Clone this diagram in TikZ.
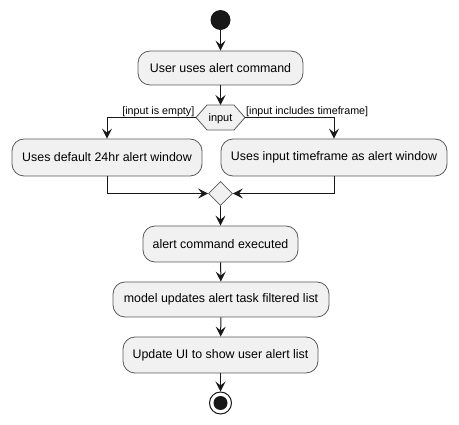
\documentclass[tikz,border=0pt]{standalone}
\usepackage{fontspec}
\setmainfont{Liberation Sans}
\usetikzlibrary{arrows.meta,shapes.geometric}
\definecolor{bgc}{HTML}{F1F1F1}
\definecolor{lnc}{HTML}{181818}
\definecolor{bdc}{HTML}{5A5A5A}
\begin{document}
\begin{tikzpicture}[x=1pt,y=-1pt,
  act/.style={draw=bdc,line width=0.8pt,fill=bgc,rounded corners=12pt,inner sep=0pt,
    minimum height=36pt,font=\fontsize{12.4}{14}\selectfont},
  arr/.style={draw=lnc,line width=1pt,-{Stealth[length=10pt,width=10pt,inset=4pt]}},
  lbl/.style={inner sep=0pt,font=\fontsize{10.7}{13}\selectfont}]
\useasboundingbox (0,0) rectangle (459,425);
\node[circle,fill=lnc,minimum size=20pt,inner sep=0pt] (start) at (220.5,20) {};
\node[act,minimum width=165pt,minimum height=34pt] (a1) at (220.5,68) {User uses alert command};
% decision hexagon
\draw[draw=bdc,line width=0.8pt,fill=bgc] (196,117.5) -- (207,105) -- (234,105) -- (245,117.5) -- (234,130) -- (207,130) -- cycle;
\coordinate (decL) at (196,117.5);
\coordinate (decR) at (245,117.5);
\coordinate (decT) at (220.5,105);
\node[inner sep=0pt,font=\fontsize{11}{13}\selectfont] (dec) at (220.5,118.5) {input};
\node[act,minimum width=190pt,minimum height=37pt] (L) at (107,157.5) {Uses default 24hr alert window};
\node[act,minimum width=226pt,minimum height=37pt] (R) at (334,157.5) {Uses input timeframe as alert window};
\node[diamond,draw=bdc,line width=0.8pt,fill=bgc,inner sep=0pt,minimum width=24pt,minimum height=24pt] (merge) at (220.5,193.5) {};
\node[act,minimum width=155pt] (a2) at (220.5,244) {alert command executed};
\node[act,minimum width=216pt,minimum height=35pt] (a3) at (221,299.5) {model updates alert task filtered list};
\node[act,minimum width=195pt] (a4) at (220.5,355) {Update UI to show user alert list};
\node[circle,draw=lnc,line width=1pt,fill=white,minimum size=22pt,inner sep=0pt] (end) at (220.5,403) {};
\fill[lnc] (end.center) circle (7pt);
% labels
\node[lbl,anchor=base east] (lL) at (194.5,114.5) {[input is empty]};
\node[lbl,anchor=base west] (lR) at (246,114.5) {[input includes timeframe]};
% connectors
\draw[arr] (start) -- (a1);
\draw[arr] (a1) -- (decT);
\draw[arr] (decL) -| (L.north);
\draw[arr] (decR) -| (R.north);
\draw[arr] (L.south) |- (merge.west);
\draw[arr] (R.south) |- (merge.east);
\draw[arr] (merge) -- (a2);
\draw[arr] (a2) -- (a3);
\draw[arr] (a3) -- (a4);
\draw[arr] (a4) -- (end);
\end{tikzpicture}
\end{document}
